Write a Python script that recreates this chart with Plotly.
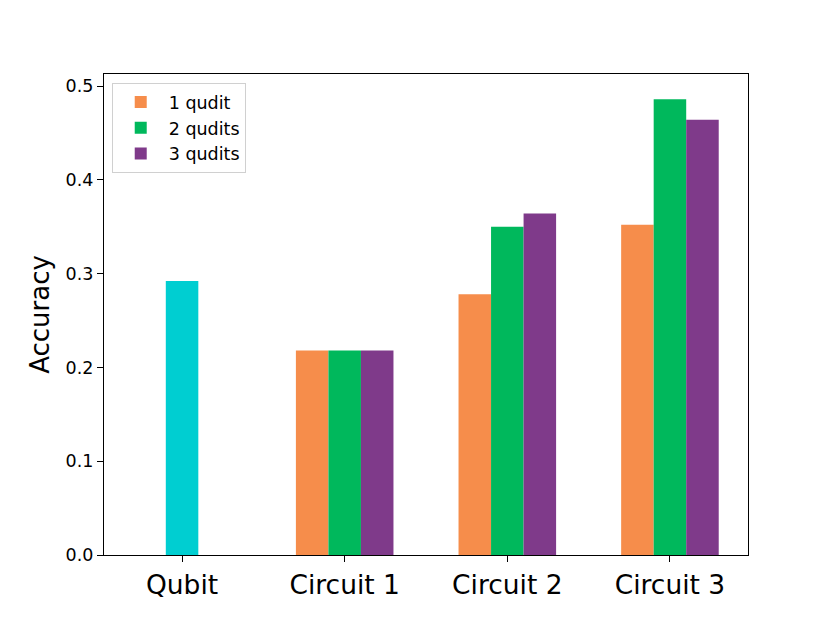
import plotly.graph_objects as go

categories = ["Qubit", "Circuit 1", "Circuit 2", "Circuit 3"]
qubit_value = [0.292]
series_names = ["1 qudit", "2 qudits", "3 qudits"]
one_qudit = [0.218, 0.278, 0.352]
two_qudits = [0.218, 0.350, 0.486]
three_qudits = [0.218, 0.364, 0.464]
y_ticks = [0.0, 0.1, 0.2, 0.3, 0.4, 0.5]

colors = ["#F68D4B", "#00B85C", "#7F3A8A"]
qubit_color = "#00CED1"
width = 0.2
offsets = [-0.2, 0.0, 0.2]

fig = go.Figure()
fig.add_trace(go.Bar(x=[0], y=qubit_value, width=width, marker_color=qubit_color,
                     marker_line_width=0, showlegend=False))
for name, vals, col, off in zip(series_names, [one_qudit, two_qudits, three_qudits], colors, offsets):
    xs = [i + off for i in range(1, len(categories))]
    fig.add_trace(go.Bar(x=xs, y=vals, width=width, name=name, marker_color=col,
                         marker_line_width=0))

font = "DejaVu Sans"
fig.update_layout(
    barmode="overlay",
    width=830, height=623,
    margin=dict(l=96, r=90, t=66, b=76),
    plot_bgcolor="white", paper_bgcolor="white",
    font=dict(family=font, color="black"),
    legend=dict(x=0.012, y=0.981, xanchor="left", yanchor="top",
                bgcolor="rgba(255,255,255,0.8)", bordercolor="#d0d0d0", borderwidth=1,
                font=dict(size=17.5, family=font), tracegroupgap=0, itemwidth=46),
    showlegend=True,
)
fig.update_xaxes(
    range=[-0.48, 3.48], tickmode="array", tickvals=list(range(len(categories))),
    ticktext=categories, tickfont=dict(size=26.5, family=font),
    showline=True, linecolor="black", linewidth=1.2, mirror=True,
    ticks="outside", ticklen=6, tickcolor="black", showgrid=False, zeroline=False,
)
fig.update_yaxes(
    range=[0, 0.5128], tickmode="array", tickvals=y_ticks,
    ticktext=[f"{v:.1f}" for v in y_ticks], tickfont=dict(size=17.5, family=font),
    title=dict(text="Accuracy", font=dict(size=26, family=font), standoff=8),
    showline=True, linecolor="black", linewidth=1.2, mirror=True,
    ticks="outside", ticklen=6, tickcolor="black", showgrid=False, zeroline=False,
)
fig.write_html("out.html")
